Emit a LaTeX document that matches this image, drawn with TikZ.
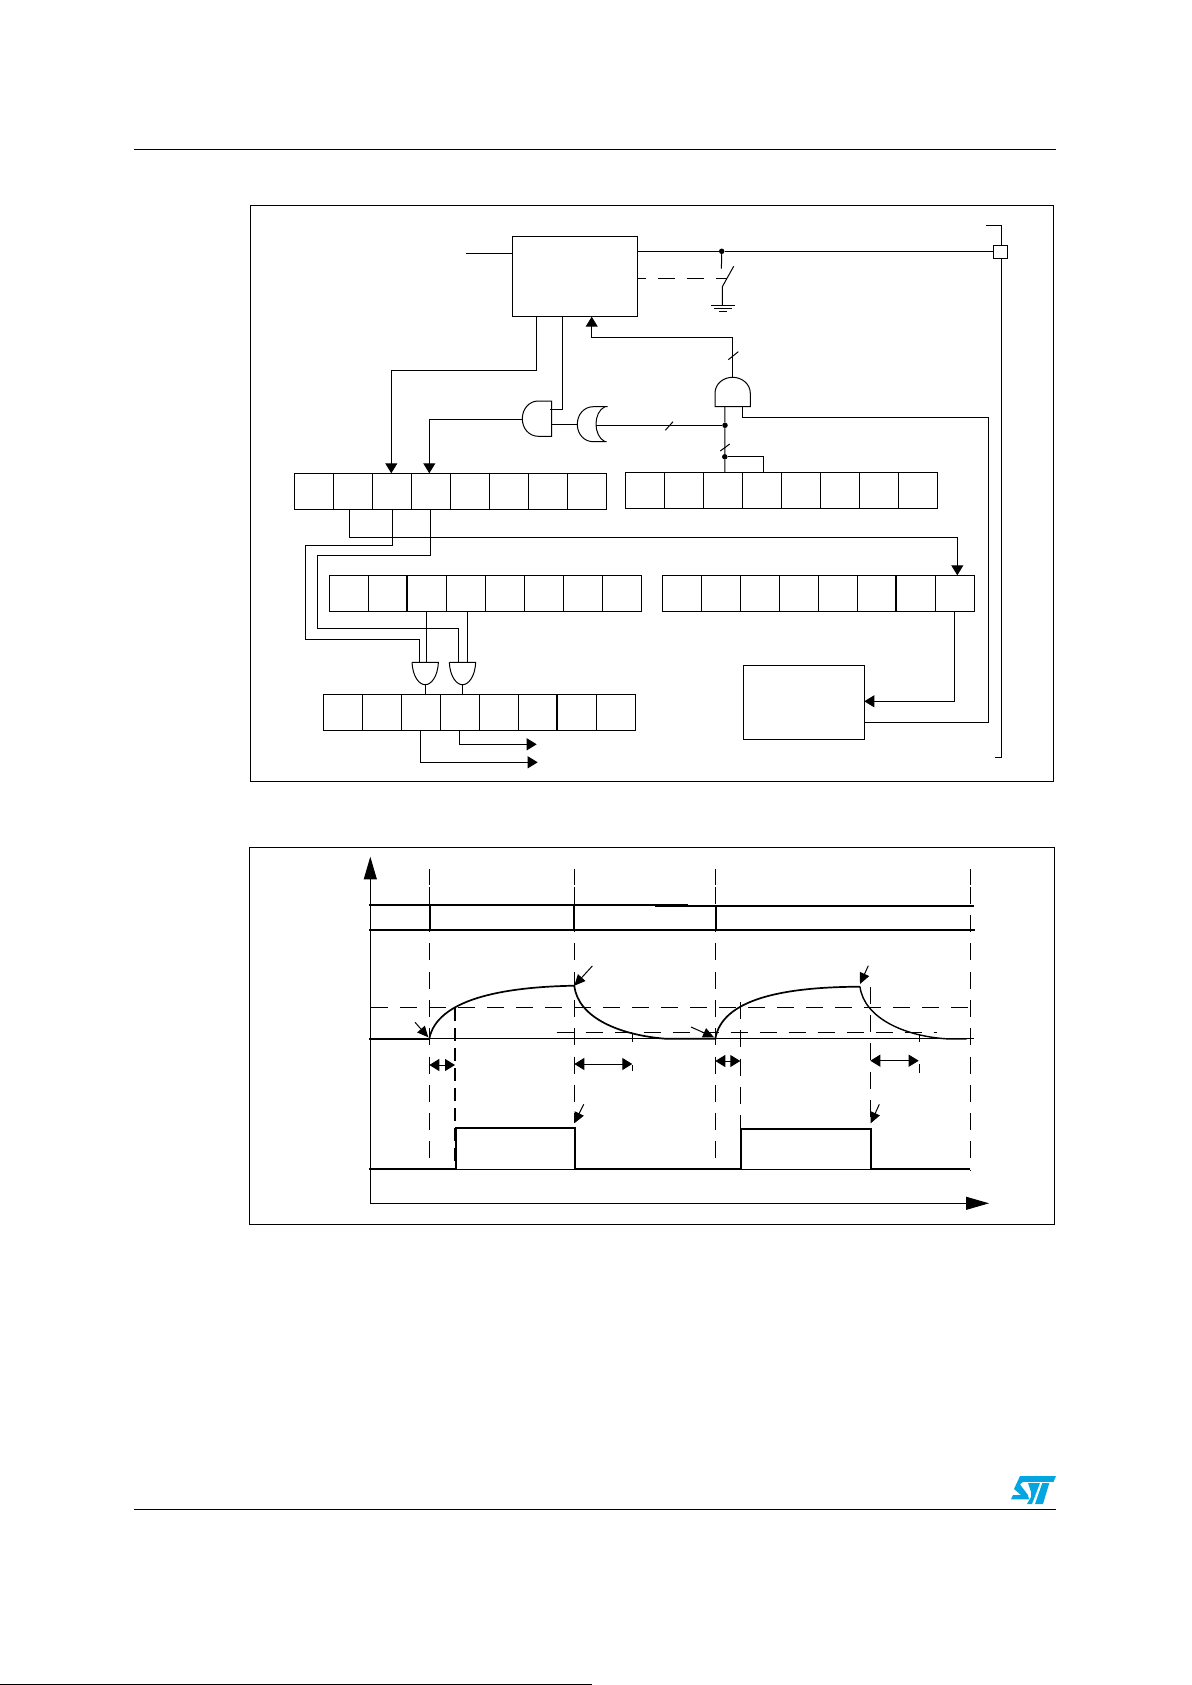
\documentclass[tikz,border=0pt]{standalone}
\usetikzlibrary{arrows.meta}

\definecolor{stblue}{HTML}{03A6E0}
\tikzset{
  wire/.style={line width=1pt},
  thickwire/.style={line width=1.7pt},
  longdash/.style={line width=1pt,dash pattern=on 17pt off 12pt},
  vdash/.style={line width=1pt,dash pattern=on 17pt off 11.3pt},
  cell/.style={draw,line width=1pt,minimum width=39pt,minimum height=36pt,inner sep=0pt,outer sep=0pt,anchor=north west},
  block/.style={draw,line width=1pt,inner sep=0pt,outer sep=0pt},
  bigtip/.style={-{Triangle[width=12pt,length=10pt]}},
  smalltip/.style={-{Triangle[width=10pt,length=11pt]}},
  bothtip/.style={{Triangle[width=12pt,length=10pt]}-{Triangle[width=12pt,length=10pt]}},
  dot/.style={circle,fill,inner sep=0pt,minimum size=5.5pt}
}

\begin{document}
\begin{tikzpicture}[x=1pt,y=-1pt]

\useasboundingbox (0,0) rectangle (1191,1685);

% Page rules
\draw[wire] (134,149.7) -- (1056,149.7);
\draw[wire] (134,1509.3) -- (1056,1509.3);
\draw[line width=1.5pt] (0,1684.3) -- (592.3,1684.3);

% The two frames
\draw[wire] (250.5,205.5) rectangle (1053.7,781.3);
\draw[wire] (249.3,847.3) rectangle (1054.7,1224.3);

% The blocks and the pin
\node[block,minimum width=125.4pt,minimum height=80.4pt] (mainblock) at (575,276.5) {};
\node[block,minimum width=121pt,minimum height=74pt] (timerblock) at (803.8,702.3) {};
\node[block,minimum width=14.4pt,minimum height=13pt] (pin) at (1000.5,251.8) {};

% The five registers
\foreach \i in {1,...,8} {
  \node[cell] (regA\i) at ({294.3+39*(\i-1)},473.3) {};
  \node[cell] (regB\i) at ({625.3+39*(\i-1)},472.3) {};
  \node[cell] (regC\i) at ({329.3+39*(\i-1)},575.3) {};
  \node[cell] (regD\i) at ({662.3+39*(\i-1)},575.3) {};
  \node[cell] (regE\i) at ({323.3+39*(\i-1)},694.3) {};
}
\draw[thickwire] (regC2.north east) -- (regC2.south east);
\draw[thickwire] (regD6.north east) -- (regD6.south east);
\draw[thickwire] (regE6.north east) -- (regE6.south east);

% Input of the main block, output to the pin, switch to ground
\coordinate (instub) at (466,253.3);
\coordinate (outnode) at (721.7,251.3);
\node[dot] (outdot) at (outnode) {};
\draw[wire] (instub) -- (instub -| mainblock.west);
\draw[wire] (mainblock.east |- outnode) -- (outdot) -- (pin.west |- outnode);
\draw[longdash,dash phase=9pt] (mainblock.east |- 0,278.3) -- (727,278.3);
\draw[wire] (outdot) -- (721.4,268.7);
\draw[wire] (733.7,266.3) -- (722.3,286.7) -- (722.3,305.3);
\draw[wire] (711,305.3) -- (735,305.3);
\draw[wire] (714,308.3) -- (732.3,308.3);
\draw[wire] (719.3,311.3) -- (727,311.3);

% The bus beside the pin
\draw[wire] (986,226) -- (1001.7,226) -- (1001.7,245.3);
\draw[wire] (1001.7,258.3) -- (1001.7,757.7) -- (995,757.7);

% Upper gate, its output goes up to the main block
\coordinate (gateT) at (732.6,377.3);
\draw[wire] (715,406.7) -- (715,393.3) .. controls (715,384) and (723,377.3) .. (gateT)
  .. controls (742,377.3) and (750.3,384) .. (750.3,393.3) -- (750.3,406.7) -- cycle;
\draw[wire,bigtip] (gateT) |- (591.7,337.3) -- ([xshift=16.7pt]mainblock.south);
\draw[wire] (728.3,359.7) -- (738.3,351.7);

% Bus from the second register
\node[dot] (busdotA) at (725,425.3) {};
\node[dot] (busdotB) at (724.8,456.8) {};
\draw[wire] (724.8,406.7) -- (busdotA) -- (busdotB) -- ([xshift=2pt]regB3.north);
\draw[wire] (busdotB) -| ([xshift=1.5pt]regB4.north);
\draw[wire] (720.3,451) -- (729.7,444);
\draw[wire] (596,425.3) -- (busdotA);
\draw[wire] (665.3,430.3) -- (673,421.7);

% Timer block back to the upper gate
\draw[wire] (742.3,406.7) |- (988.7,417.3) |- ([yshift=-20pt]timerblock.east);

% Exclusive gate
\coordinate (xorL) at (577.3,424.3);
\draw[wire] (607.7,406.7) -- (593.3,406.7) .. controls (584,406.7) and (577.3,414.5) .. (xorL)
  .. controls (577.3,434) and (584,441.7) .. (593.3,441.7) -- (606.7,441.7);
\draw[wire] (605,406.7) .. controls (593,412) and (593,436) .. (605,441.7);

% Gate left of it
\coordinate (andL) at (522.3,418.7);
\draw[wire] (551.7,401) -- (538.3,401) .. controls (529,401) and (522.3,409) .. (andL)
  .. controls (522.3,428.5) and (529,436.3) .. (538.3,436.3) -- (551.7,436.3) -- cycle;
\draw[wire] (551.7,424.3) -- (xorL);
\draw[wire,bigtip] (andL |- 0,419.3) -| ([xshift=-1.5pt]regA4.north);
\draw[wire] ([xshift=-12.7pt]mainblock.south) |- (550.3,409.3);
\draw[wire,bigtip] ([xshift=-38.3pt]mainblock.south) |- (391.3,370.3) -- (391.3,473.3);

% From the first register to the fourth one and to the lower gates
\coordinate (gateA) at (425.2,684.7);
\coordinate (gateB) at (462.5,684.7);
\draw[wire,bigtip] ([xshift=-3.5pt]regA2.south) |- (957.3,537.3) -- (957.3,575.3);
\draw[wire] ([xshift=.5pt]regA3.south) |- (305.3,545.3) |- (419.7,639.3) -- (419.7,662.3);
\draw[wire] ([xshift=-.5pt]regA4.south) |- (317.3,555.3) |- (458.7,628.3) -- (458.7,662.3);
\draw[wire] ([xshift=-.5pt]regC3.south) -- (426.3,662.3);
\draw[wire] ([xshift=1.5pt]regC4.south) -- (467.3,662.3);

% The two lower gates
\foreach \g in {gateA,gateB} {
  \draw[wire] ([xshift=-13.2pt,yshift=22.4pt]\g) -- ([xshift=13.2pt,yshift=22.4pt]\g)
    .. controls ([xshift=12.5pt,yshift=8pt]\g) and ([xshift=6pt]\g) .. (\g)
    .. controls ([xshift=-6pt]\g) and ([xshift=-12.5pt,yshift=8pt]\g) .. ([xshift=-13.2pt,yshift=22.4pt]\g);
}
\draw[wire] (gateA) -- (regE3.north -| gateA);
\draw[wire] (gateB) -- (regE4.north -| gateB);

% Outputs of the last register
\draw[wire,bigtip] ([xshift=-.5pt]regE3.south) |- (537.7,762.3);
\draw[wire,bigtip] ([xshift=-.5pt]regE4.south) |- (536.7,744.3);

% Fourth register to the timer block
\draw[wire,bigtip] ([xshift=-.5pt]regD8.south) |- (timerblock.east |- 0,701.3);

% Axes of the timing chart
\coordinate (axisO) at (370.3,1203.3);
\draw[wire,-{Triangle[width=13pt,length=22.7pt]}] (axisO) -- (370.3,856.7);
\draw[wire,-{Triangle[width=13pt,length=23pt]}] (axisO) -- (989,1203.3);

% Upper trace
\draw[thickwire] (369.3,905) -- (688,905);
\draw[thickwire] (655,906) -- (974,906);
\draw[thickwire] (369.3,930) -- (975,930);
\draw[thickwire] (429.7,905) -- (429.7,930);
\draw[line width=2.2pt] (574.3,905) -- (574.3,930);
\draw[thickwire] (716,906) -- (716,930);

% Dashed verticals
\foreach \x/\yend in {429.3/1169,574.3/1123,715.3/1169,970.3/1170} {
  \draw[wire] (\x,869) -- (\x,885);
  \draw[vdash] (\x,886.7) -- (\x,\yend);
}
\draw[thickwire,dash pattern=on 13pt off 7pt] (455,1008) -- (455,1169);
\draw[vdash] (740.3,1002) -- (740.3,1170);
\draw[vdash] (870.3,986.7) -- (870.3,1123);

% Thresholds and baseline
\draw[longdash] (371,1007.3) -- (971.7,1007.3);
\draw[longdash] (556.7,1032.3) -- (937.3,1032.3);
\draw[wire] (370,1038.7) -- (974,1038.7);
\draw[thickwire] (369,1038.7) -- (429.3,1038.7);

% The charge and discharge curves
\draw[thickwire] (429.3,1038.7) .. controls (437,1000) and (500,987) .. (574.3,985.7)
  .. controls (578,1018) and (620,1035) .. (665,1038.7) -- (715.3,1038.7)
  .. controls (722,1000) and (780,987) .. (860,986.7);
\draw[line width=1.4pt] (860,986.7) .. controls (864,1018) and (905,1037) .. (950,1039) -- (966.7,1039);

% Small arrows onto the curves
\draw[wire,smalltip] (415,1022.3) -- (428.3,1037.3);
\draw[wire,smalltip] (592.3,966) -- (574.3,985.7);
\draw[wire,smalltip] (691,1027) -- (714,1037.3);
\draw[wire,smalltip] (868.3,965.7) -- (860,984);
\draw[wire,smalltip] (583.7,1104.3) -- (574.3,1123.3);
\draw[wire,smalltip] (879.3,1104.3) -- (870.7,1123.3);

% Delay arrows and their ticks
\draw[wire,bothtip] (429.3,1065) -- (455,1065);
\draw[wire,bothtip] (574.3,1064) -- (632.3,1064);
\draw[wire,bothtip] (715.3,1061) -- (740.3,1061);
\draw[wire,bothtip] (870.3,1060.7) -- (918.7,1060.7);
\draw[wire] (632.3,1032.7) -- (632.3,1041.7);
\draw[wire] (632.3,1065) -- (632.3,1071);
\draw[wire] (919.3,1034.3) -- (919.3,1042.3);
\draw[wire] (919.3,1064) -- (919.3,1072.7);

% The pulses
\draw[wire] (456,1169.3) -- (575,1169.3);
\draw[wire] (740.7,1169.3) -- (871.3,1169.3);
\draw[thickwire] (369,1169) -- (456,1169) -- (456,1127.7) -- (575,1127.7) -- (575,1169)
  -- (740.7,1169) -- (740.7,1128.7) -- (871.3,1128.7) -- (871.3,1169.3) -- (970,1169.3);

% Logo
\fill[stblue] (1020,1476) -- (1056,1476) -- (1053.5,1481.8) -- (1023,1481.8) -- (1020,1484.5)
  -- (1028,1495) -- (1029,1499.3) -- (1011,1499.3) -- (1013,1495) -- (1021,1495) -- (1014,1489) -- cycle;
\fill[stblue] (1028,1483) -- (1040,1483) -- (1032,1504) -- (1027,1504) -- (1031,1497) -- (1031,1492) -- cycle;
\fill[stblue] (1042.3,1483) -- (1049.3,1483) -- (1043,1504) -- (1035,1504) -- cycle;

\end{tikzpicture}
\end{document}
